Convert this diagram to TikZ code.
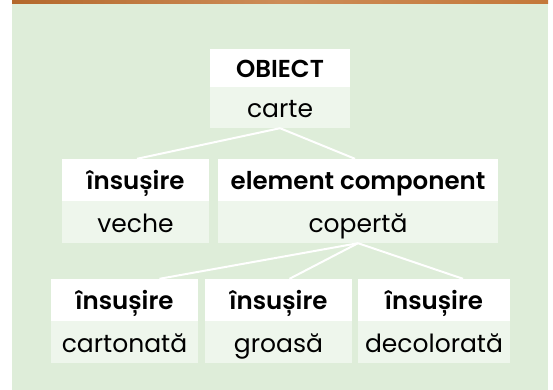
\documentclass[tikz,border=0pt]{standalone}
\usepackage{fontspec}
\setmainfont{Poppins}
\newfontfamily\boldf{Poppins SemiBold}
\definecolor{bggreen}{RGB}{222,237,217}
\definecolor{bodygreen}{RGB}{238,246,236}
\definecolor{wood}{RGB}{196,120,58}
\definecolor{wooddark}{RGB}{180,104,44}
\tikzset{
  head/.style={fill=white, inner sep=0pt, font=\boldf\fontsize{24.5}{28}\selectfont, text height=19pt, text depth=0pt},
  body/.style={fill=bodygreen, inner sep=0pt, font=\fontsize{25}{28}\selectfont, text height=20.5pt, text depth=0pt},
  link/.style={draw=white, line width=2pt}
}
\begin{document}
\begin{tikzpicture}[x=1pt,y=-1pt]
\useasboundingbox (0,0) rectangle (553,390);
\fill[bggreen] (12,4) rectangle (548,390);
\shade[left color=wooddark, right color=wood, middle color=wood!85!white] (12,0) rectangle (548,4);
% top
\node[head, minimum width=140pt, minimum height=38pt] (h0) at (280,68.5) {OBIECT};
\node[body, minimum width=140pt, minimum height=41pt] (b0) at (280,107.5) {carte};
% second row
\node[head, minimum width=147pt, minimum height=42pt] (h1) at (135.5,180) {însușire};
\node[body, minimum width=147pt, minimum height=42pt] (b1) at (135.5,222) {veche};
\node[head, minimum width=280pt, minimum height=42pt] (h2) at (358,180) {element component};
\node[body, minimum width=280pt, minimum height=42pt] (b2) at (358,222) {copertă};
% third row
\node[head, minimum width=147pt, minimum height=42pt] (h3) at (124.5,300) {însușire};
\node[body, minimum width=147pt, minimum height=42pt] (b3) at (124.5,342) {cartonată};
\node[head, minimum width=147pt, minimum height=42pt] (h4) at (278.5,300) {însușire};
\node[body, minimum width=147pt, minimum height=42pt] (b4) at (278.5,342) {groasă};
\node[head, minimum width=152pt, minimum height=42pt] (h5) at (434,300) {însușire};
\node[body, minimum width=152pt, minimum height=42pt] (b5) at (434,342) {decolorată};
% connectors
\draw[link] (b0.south) -- ([xshift=1.5pt]h1.north);
\draw[link] (b0.south) -- ([xshift=-3pt]h2.north);
\draw[link] (b2.south) -- ([xshift=35pt]h3.north);
\draw[link] (b2.south) -- ([xshift=11pt]h4.north);
\draw[link] (b2.south) -- ([xshift=29pt]h5.north);
\end{tikzpicture}
\end{document}
